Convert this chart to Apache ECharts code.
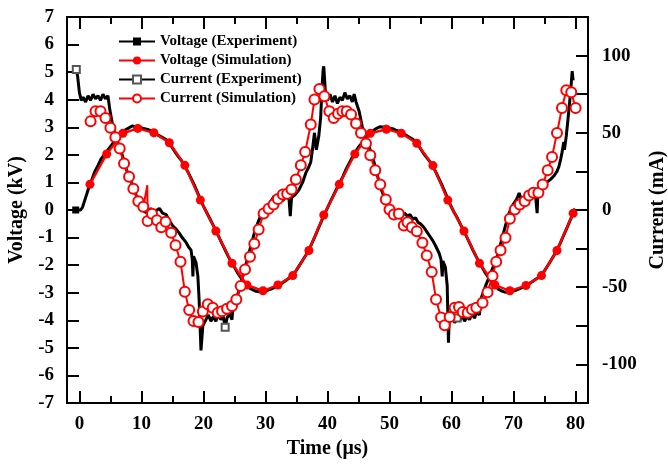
<!DOCTYPE html>
<html><head><meta charset="utf-8">
<script src="https://cdn.jsdelivr.net/npm/echarts@6/dist/echarts.min.js"></script>
<style>html,body{margin:0;padding:0;background:#fff}#c{width:668px;height:468px}</style>
</head><body><div id="c"></div>
<script>
// ---- Data ----
const xMajorTicks = [0, 10, 20, 30, 40, 50, 60, 70, 80];
const xMinorTicks = [5, 15, 25, 35, 45, 55, 65, 75];

// Voltage (Simulation), kV
const vSimT = [1.7, 4.4, 7.0, 9.4, 12.0, 14.5, 17.0, 19.5, 22.0, 24.6, 27.0, 29.6, 32.0, 34.4, 37.0, 39.4,
  41.9, 44.4, 46.9, 49.5, 51.9, 54.4, 57.0, 59.4, 62.0, 64.5, 67.0, 69.4, 72.0, 74.5, 77.0, 79.6];
const vSimV = [0.93, 2.03, 2.78, 2.96, 2.80, 2.44, 1.62, 0.36, -0.76, -1.93, -2.72, -2.93, -2.72, -2.38, -1.47, -0.18,
  0.93, 2.03, 2.78, 2.93, 2.78, 2.42, 1.61, 0.36, -0.76, -1.93, -2.72, -2.93, -2.74, -2.38, -1.47, -0.12];

// Voltage (Experiment), kV
const vExpT = [-0.6, 0.2, 0.5, 1.0, 1.5, 2.0, 2.5, 3.0, 3.5, 4.0, 4.5, 5.0, 5.5, 6.0, 6.5, 7.0, 7.5, 8.0, 8.5, 9.0, 9.5,
  10.0, 10.5, 11.0, 11.5, 12.0, 12.5, 13.0, 13.5, 14.0, 14.5, 15.0, 15.5, 16.0, 16.5, 17.0, 17.5, 18.0, 18.5, 19.0, 19.5,
  20.0, 20.5, 21.0, 21.5, 22.0, 22.5, 23.0, 23.5, 24.0, 24.5, 25.0, 25.5, 26.0, 26.5, 27.0, 27.5, 28.0, 28.5, 29.0, 29.5,
  30.0, 30.5, 31.0, 31.5, 32.0, 32.5, 33.0, 33.5, 34.0, 34.5, 35.0, 35.5, 36.0, 36.5, 37.0, 37.5, 38.0, 38.5, 39.0, 39.5,
  40.0, 40.5, 41.0, 41.5, 42.0, 42.5, 43.0, 43.5, 44.0, 44.5, 45.0, 45.5, 46.0, 46.5, 47.0, 47.5, 48.0, 48.5, 49.0, 49.5,
  50.0, 50.5, 51.0, 51.5, 52.0, 52.5, 53.0, 53.5, 54.0, 54.5, 55.0, 55.5, 56.0, 56.5, 57.0, 57.5, 58.0, 58.5, 59.0, 59.5,
  60.0, 60.5, 61.0, 61.5, 62.0, 62.5, 63.0, 63.5, 64.0, 64.5, 65.0, 65.5, 66.0, 66.5, 67.0, 67.5, 68.0, 68.5, 69.0, 69.5,
  70.0, 70.5, 71.0, 71.5, 72.0, 72.5, 73.0, 73.5, 74.0, 74.5, 75.0, 75.5, 76.0, 76.5, 77.0, 77.5, 78.0, 78.5, 79.0, 79.5, 79.9];
const vExpV = [0.0, 0.0, 0.1, 0.45, 0.8, 1.1, 1.4, 1.62, 1.85, 2.0, 2.15, 2.3, 2.45, 2.58, 2.72, 2.82, 2.92, 2.98, 3.05, 3.02, 3.06,
  2.98, 2.95, 2.92, 2.88, 2.80, 2.74, 2.68, 2.62, 2.55, 2.42, 2.25, 2.08, 1.92, 1.78, 1.60, 1.38, 1.15, 0.92, 0.66, 0.38,
  0.14, -0.08, -0.30, -0.52, -0.74, -0.98, -1.22, -1.45, -1.68, -1.90, -2.08, -2.28, -2.44, -2.60, -2.74, -2.84, -2.90, -2.95, -2.97, -2.95,
  -2.93, -2.90, -2.86, -2.80, -2.74, -2.68, -2.60, -2.52, -2.44, -2.34, -2.18, -2.00, -1.82, -1.64, -1.45, -1.20, -0.95, -0.68, -0.42, -0.15,
  0.08, 0.32, 0.55, 0.78, 1.00, 1.22, 1.48, 1.70, 1.92, 2.10, 2.28, 2.42, 2.56, 2.70, 2.82, 2.90, 2.97, 3.02, 3.00, 3.04,
  2.97, 2.95, 2.90, 2.86, 2.80, 2.74, 2.66, 2.60, 2.52, 2.40, 2.22, 2.05, 1.90, 1.76, 1.58, 1.36, 1.12, 0.88, 0.62, 0.34,
  0.10, -0.12, -0.32, -0.55, -0.76, -1.00, -1.24, -1.48, -1.70, -1.92, -2.10, -2.30, -2.46, -2.62, -2.75, -2.86, -2.93, -2.97, -2.98, -2.96,
  -2.93, -2.90, -2.85, -2.80, -2.74, -2.67, -2.60, -2.52, -2.45, -2.36, -2.20, -2.02, -1.84, -1.65, -1.46, -1.22, -0.96, -0.70, -0.44, -0.18, 0.05];
const vExpMarkIdx = [0];

// Current (Simulation), mA
const iSimT = [1.8, 2.6, 3.4, 4.2, 5.0, 5.8, 6.5, 7.2, 8.0, 8.7, 9.5, 10.3, 10.95, 11.0, 11.7, 12.5, 13.2, 13.9, 14.8,
  15.5, 16.3, 17.0, 17.7, 18.4, 19.2, 19.9, 20.7, 21.5, 22.3, 23.0, 23.8, 24.6, 25.3, 26.0, 26.7, 27.5, 28.2, 28.9,
  29.7, 30.5, 31.3, 32.0, 32.8, 33.5, 34.2, 34.9, 35.7, 36.4, 37.3, 37.9, 38.7, 39.5, 40.3, 41.0, 41.7, 42.4, 43.1,
  43.8, 44.6, 45.4, 46.2, 46.9, 47.7, 48.5, 49.4, 50.0, 50.7, 51.5, 52.3, 52.9, 53.6, 54.4, 55.3, 56.0, 56.8, 57.5,
  58.3, 58.9, 59.7, 60.5, 61.2, 61.8, 62.6, 63.3, 64.0, 65.0, 65.8, 66.6, 67.2, 67.9, 68.7, 69.4, 70.2, 71.0, 71.8,
  72.5, 73.2, 74.0, 74.7, 75.5, 76.2, 77.0, 77.8, 78.5, 79.3, 80.0];
const iSimI = [57.4, 63.9, 63.9, 59.6, 53.2, 47.1, 39.8, 30.1, 21.5, 13.7, 5.7, 2.1, 16.0, -7.2, -2.5, -6.6, -11.1, -7.6, -14.7,
  -22.8, -33.5, -52.9, -64.8, -71.9, -72.6, -65.8, -61.1, -63.3, -66.5, -65.5, -63.9, -62.2, -57.9, -49.3, -38.5, -30.3, -21.9, -12.6,
  -2.3, 0.8, 3.6, 7.2, 10.0, 10.5, 13.3, 19.7, 29.0, 37.6, 55.3, 71.5, 78.4, 73.6, 63.9, 59.6, 62.4, 63.9, 63.9,
  61.8, 56.0, 49.9, 43.0, 35.4, 25.7, 16.5, 6.8, 0.3, -2.9, -2.5, -10.0, -7.9, -11.1, -13.7, -21.2, -29.4, -40.2, -57.9,
  -69.7, -74.7, -69.3, -63.3, -62.9, -66.1, -66.5, -64.4, -63.3, -60.0, -53.2, -42.8, -33.5, -26.0, -18.0, -5.7, 0.3, 3.6, 5.7,
  9.4, 11.1, 11.1, 16.5, 25.7, 34.4, 49.9, 66.1, 77.5, 76.2, 66.1];
const iSimNoMarkIdx = [12];

// Current (Experiment), mA
const iExpT = [-0.5, -0.3, 0.0, 0.3, 0.6, 1.0, 1.4, 1.8, 2.2, 2.6, 3.0, 3.4, 3.8, 4.2, 4.6, 4.9, 5.4, 6.0, 6.8, 7.6, 8.4, 9.2,
  10.0, 10.5, 11.0, 11.5, 12.0, 12.5, 12.9, 13.4, 14.0, 14.5, 15.0, 15.5, 16.1, 16.6, 17.2, 17.6, 18.0, 18.2, 18.3, 18.4, 18.8,
  19.1, 19.3, 19.6, 19.9, 20.4, 20.8, 21.2, 21.6, 22.0, 22.4, 22.8, 23.2, 23.5, 23.8, 24.2, 24.6, 24.7, 25.0, 25.8, 26.4,
  27.0, 27.6, 28.2, 28.8, 29.3, 29.8, 30.3, 30.8, 31.4, 31.8, 32.3, 32.8, 33.3, 33.8, 34.0, 34.2, 34.8, 35.4, 36.0, 36.5,
  37.0, 37.3, 37.6, 37.9, 38.2, 38.6, 38.9, 39.1, 39.3, 39.4, 39.7, 40.0, 40.4, 40.8, 41.2, 41.6, 42.0, 42.4, 42.8, 43.2,
  43.6, 44.0, 44.3, 44.6, 45.1, 45.6, 46.2, 46.8, 47.5, 48.0, 48.6, 49.2, 49.7, 50.2, 50.7, 51.1, 51.5, 52.0, 52.4, 52.9,
  53.3, 53.8, 54.2, 54.6, 55.0, 55.5, 56.0, 56.5, 57.0, 57.4, 58.0, 58.3, 58.5, 58.6, 59.0, 59.3, 59.5, 59.6, 60.1, 60.5,
  60.9, 61.3, 61.7, 62.1, 62.5, 62.9, 63.3, 63.7, 64.1, 64.5, 64.7, 65.5, 66.0, 66.6, 67.1, 67.6, 68.1, 68.7, 69.2, 69.7,
  70.0, 70.5, 70.9, 71.3, 71.6, 72.0, 72.4, 72.7, 73.1, 73.5, 73.8, 73.9, 74.4, 75.0, 75.4, 76.0, 76.5, 77.0, 77.3, 77.6,
  77.8, 78.1, 78.2, 78.5, 78.7, 79.0, 79.3, 79.45, 79.6];
const iExpI = [91, 87, 76, 71, 73, 70, 74, 71, 75, 72, 74, 71, 75, 72, 74, 65, 54, 46, 37, 26, 18, 9,
  1, -1, -2, 1, -2, 0, 1, -2, -3, -7, -10, -12, -15, -18, -21, -24, -26, -32, -43, -30, -34,
  -43, -58, -91, -75, -71, -68, -72, -69, -72, -68, -71, -69, -76, -70, -67, -71, -66, -62, -51, -42,
  -33, -24, -15, -8, -3, -2, 3, 5, 9, 5, 8, 6, 9, 7, -4, 8, 10, 13, 18, 24,
  28, 31, 40, 50, 39, 48, 60, 78, 91, 93, 74, 71, 75, 70, 74, 69, 73, 71, 76, 72,
  74, 70, 75, 70, 64, 54, 47, 40, 31, 23, 14, 8, 4, 1, 0, -3, -1, -4, -2, -4,
  -3, -6, -5, -8, -9, -11, -14, -17, -20, -23, -28, -32, -43, -33, -37, -49, -86, -73, -69, -73,
  -70, -72, -68, -72, -69, -71, -67, -70, -66, -68, -58, -49, -44, -38, -33, -27, -19, -10, -3, 2,
  4, 7, 11, 6, 8, 10, 7, 10, 8, 11, -2, 9, 13, 16, 18, 20, 22, 25, 28, 33,
  37, 44, 39, 48, 56, 68, 82, 90, 84];
const iExpMarkIdx = [0, 55, 143];

// ---- Chart ----
const FONT = '"Liberation Serif", "Times New Roman", serif';
const pairs = (ts, vs) => ts.map((t, i) => [t, vs[i]]);
const chart = echarts.init(document.getElementById('c'), null, {renderer: 'canvas'});

const lblStyle = {color: '#000', fontFamily: FONT, fontWeight: 'bold', fontSize: 19};
const nameStyle = {color: '#000', fontFamily: FONT, fontWeight: 'bold', fontSize: 20};
const axLine = {show: true, onZero: false, lineStyle: {color: '#000', width: 2}};
const tickStyle = {color: '#000', width: 2};

function xAx(pos, ticks, len, withLabels, withLine) {
  const o = {
    type: 'value', position: pos, min: -2, max: 82,
    axisLine: withLine ? axLine : {show: false, onZero: false},
    axisTick: {show: true, inside: true, length: len, customValues: ticks, lineStyle: tickStyle},
    axisLabel: withLabels ? Object.assign({customValues: ticks, margin: 12}, lblStyle) : {show: false},
    splitLine: {show: false}
  };
  if (withLabels) {
    o.name = 'Time (μs)'; o.nameLocation = 'middle'; o.nameGap = 35; o.nameTextStyle = nameStyle;
  }
  return o;
}

const siSim = pairs(iSimT, iSimI).map((p, i) => iSimNoMarkIdx.includes(i) ? {value: p, symbol: 'none'} : p);

chart.setOption({
  animation: false,
  backgroundColor: '#fff',
  grid: {left: 67, right: 80, top: 17, bottom: 65, containLabel: false, outerBoundsMode: 'none'},
  legend: {
    orient: 'vertical', left: 118, top: 34, padding: 0, itemGap: 4,
    itemWidth: 36, itemHeight: 10,
    textStyle: {color: '#000', fontFamily: FONT, fontWeight: 'bold', fontSize: 15},
    data: ['Voltage (Experiment)', 'Voltage (Simulation)', 'Current (Experiment)', 'Current (Simulation)']
  },
  xAxis: [
    xAx('bottom', xMajorTicks, 12, true, true),
    xAx('bottom', xMinorTicks, 7, false, false),
    xAx('top', xMajorTicks, 12, false, true),
    xAx('top', xMinorTicks, 7, false, false)
  ],
  yAxis: [
    {
      type: 'value', position: 'left', min: -7, max: 7, interval: 1,
      axisLine: axLine,
      axisTick: {show: true, inside: true, length: 12, lineStyle: tickStyle},
      axisLabel: Object.assign({margin: 13}, lblStyle),
      splitLine: {show: false},
      name: 'Voltage (kV)', nameLocation: 'middle', nameGap: 33, nameTextStyle: nameStyle
    },
    {
      type: 'value', position: 'right', min: -125, max: 125, interval: 25,
      axisLine: axLine,
      axisTick: {show: true, inside: true, length: 12, lineStyle: tickStyle},
      axisLabel: Object.assign({margin: 14, formatter: v => (v % 50 === 0 ? String(v) : '')}, lblStyle),
      splitLine: {show: false},
      name: 'Current (mA)', nameLocation: 'middle', nameGap: 56, nameTextStyle: nameStyle
    }
  ],
  series: [
    {
      name: 'Voltage (Experiment)', type: 'line', xAxisIndex: 0, yAxisIndex: 0, z: 2,
      data: pairs(vExpT, vExpV),
      symbol: 'rect', symbolSize: (v, p) => vExpMarkIdx.includes(p.dataIndex) ? 7 : 0,
      lineStyle: {color: '#000', width: 3}, itemStyle: {color: '#000'}, silent: true
    },
    {
      name: 'Voltage (Simulation)', type: 'line', xAxisIndex: 0, yAxisIndex: 0, z: 3,
      data: pairs(vSimT, vSimV),
      symbol: 'circle', symbolSize: 9,
      lineStyle: {color: '#ff0000', width: 2.4}, itemStyle: {color: '#ff0000'}, silent: true
    },
    {
      name: 'Current (Experiment)', type: 'line', xAxisIndex: 0, yAxisIndex: 1, z: 2,
      data: pairs(iExpT, iExpI),
      symbol: 'emptyRect', symbolSize: (v, p) => iExpMarkIdx.includes(p.dataIndex) ? 7 : 0,
      lineStyle: {color: '#000', width: 3}, itemStyle: {color: '#555', borderColor: '#555', borderWidth: 1}, silent: true
    },
    {
      name: 'Current (Simulation)', type: 'line', xAxisIndex: 0, yAxisIndex: 1, z: 4,
      data: siSim,
      symbol: 'emptyCircle', symbolSize: 10,
      lineStyle: {color: '#ff0000', width: 2}, itemStyle: {color: '#ff0000', borderWidth: 1.2}, silent: true
    }
  ]
});
</script>
</body></html>
